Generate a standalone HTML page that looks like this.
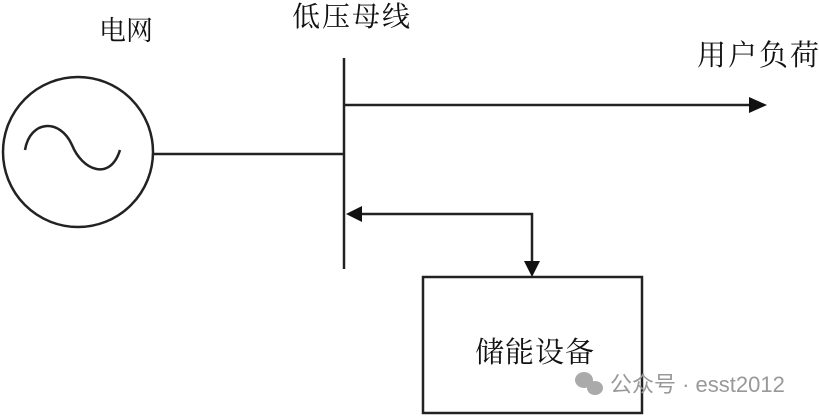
<!DOCTYPE html>
<html><head><meta charset="utf-8"><style>
html,body{margin:0;padding:0;background:#fff}
svg{display:block}
.t{font-family:"Liberation Serif","Noto Serif CJK SC",serif;fill:#111}
</style></head><body>
<svg width="819" height="417" viewBox="0 0 819 417" xmlns="http://www.w3.org/2000/svg">
<rect width="819" height="417" fill="#fff"/>
<g stroke="#222" stroke-width="2.5" fill="none">
<circle cx="78" cy="152" r="75"/>
<path d="M25 150 C30 120 60 118 72 145 C82 170 110 182 120 150"/>
<line x1="153" y1="154" x2="344" y2="154"/>
<line x1="344" y1="58" x2="344" y2="269"/>
<line x1="344" y1="105" x2="752" y2="105"/>
<polyline points="358,214 532,214 532,262"/>
<rect x="423" y="277" width="219" height="136"/>
</g>
<g fill="#111">
<polygon points="767,105 749,97 749,113"/>
<polygon points="346,214 362,206 362,222"/>
<polygon points="532,277 524,261 540,261"/>
</g>
<text class="t" x="99" y="40" font-size="27">电网</text>
<text class="t" x="292" y="26" font-size="28" letter-spacing="2">低压母线</text>
<text class="t" x="697" y="65" font-size="29" letter-spacing="2">用户负荷</text>
<text class="t" x="475" y="362" font-size="29" letter-spacing="1">储能设备</text>
<g fill="#aaa">
<ellipse cx="584" cy="380" rx="9" ry="8"/><ellipse cx="595" cy="388" rx="8" ry="7"/>
</g>
<text x="610" y="392" font-size="22" fill="#999" font-family="Liberation Sans,'Noto Sans CJK SC',sans-serif">公众号 · esst2012</text>
</svg>
</body></html>
